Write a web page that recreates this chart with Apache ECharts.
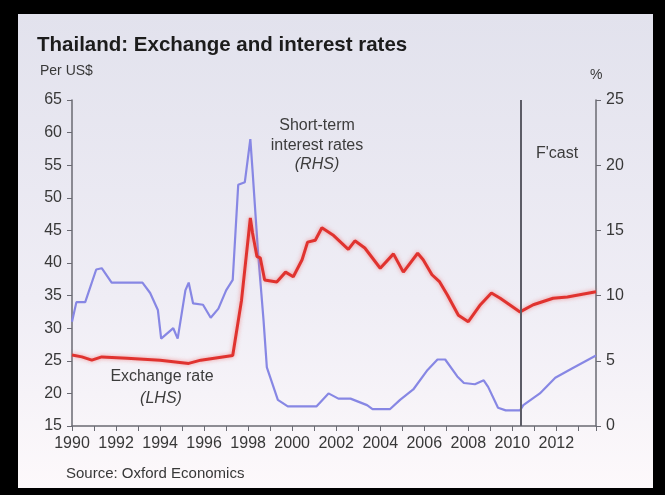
<!DOCTYPE html>
<html>
<head>
<meta charset="utf-8">
<script src="https://cdn.jsdelivr.net/npm/echarts@6/dist/echarts.min.js"></script>
<style>
  html, body { margin: 0; padding: 0; background: #000; }
  #chart { width: 665px; height: 495px; }
</style>
</head>
<body>
<div id="chart"></div>
<script>
// Exchange rate, baht per US$ (left axis)
const fxYears = [1990.0, 1990.45, 1990.9, 1991.35, 1992.5, 1994.0, 1995.3, 1995.85, 1997.3, 1997.7,
  1998.1, 1998.2, 1998.4, 1998.55, 1998.75, 1999.3, 1999.7, 2000.05, 2000.45, 2000.7,
  2001.05, 2001.35, 2001.85, 2002.55, 2002.85, 2003.3, 2004.0, 2004.6, 2005.05, 2005.7,
  2005.95, 2006.35, 2006.7, 2007.05, 2007.55, 2008.0, 2008.55, 2009.05, 2009.45, 2010.35,
  2010.95, 2011.85, 2012.5, 2013.8]
const fxRates = [25.9, 25.6, 25.1, 25.6, 25.4, 25.1, 24.6, 25.1, 25.8, 34.3,
  46.9, 44.6, 41.0, 40.8, 37.4, 37.1, 38.6, 37.9, 40.5, 43.2,
  43.5, 45.4, 44.3, 42.1, 43.4, 42.3, 39.2, 41.4, 38.6, 41.5,
  40.5, 38.2, 37.1, 35.1, 32.0, 31.0, 33.6, 35.4, 34.6, 32.5,
  33.6, 34.6, 34.8, 35.6]

// Short-term interest rates, % (right axis)
const irYears = [1990.0, 1990.2, 1990.6, 1991.1, 1991.35, 1991.8, 1993.2, 1993.55, 1993.9, 1994.05,
  1994.6, 1994.8, 1995.15, 1995.3, 1995.5, 1995.95, 1996.3, 1996.65, 1997.0, 1997.3,
  1997.55, 1997.85, 1998.1, 1998.2, 1998.45, 1998.7, 1998.85, 1999.35, 1999.8, 2001.1,
  2001.65, 2002.1, 2002.65, 2003.4, 2003.65, 2004.45, 2004.9, 2005.5, 2006.15, 2006.6,
  2006.95, 2007.5, 2007.8, 2008.3, 2008.7, 2008.9, 2009.35, 2009.7, 2010.35, 2010.5,
  2011.25, 2011.95, 2012.75, 2013.8]
const irRates = [8.0, 9.5, 9.5, 12.0, 12.1, 11.0, 11.0, 10.2, 8.9, 6.7,
  7.5, 6.7, 10.4, 11.0, 9.4, 9.3, 8.3, 9.0, 10.4, 11.2,
  18.5, 18.7, 22.0, 19.6, 13.3, 8.1, 4.5, 2.0, 1.5, 1.5,
  2.5, 2.1, 2.1, 1.6, 1.3, 1.3, 2.0, 2.8, 4.3, 5.1,
  5.1, 3.8, 3.3, 3.2, 3.5, 3.0, 1.4, 1.2, 1.2, 1.6,
  2.5, 3.7, 4.45, 5.4]

const forecastStart = 2010.4

const font = '"Liberation Sans", Arial, sans-serif'
const axisColor = '#6a6a72'
const labelColor = '#383838'

const zip = (xs, ys) => xs.map((x, i) => [x, ys[i]])

const chart = echarts.init(document.getElementById('chart'))

chart.setOption({
  backgroundColor: '#000',
  animation: false,
  textStyle: { fontFamily: font },
  graphic: [
    {
      type: 'rect', z: -10,
      shape: { x: 18, y: 14, width: 635, height: 474 },
      style: {
        fill: new echarts.graphic.LinearGradient(0, 0, 0, 1, [
          { offset: 0, color: '#e2e2ed' },
          { offset: 0.6, color: '#efedf5' },
          { offset: 1, color: '#fdf9fb' }
        ])
      }
    },
    {
      type: 'text', left: 37, top: 35,
      style: { text: 'Thailand: Exchange and interest rates', font: 'bold 20.5px ' + font, fill: '#1c1c1c' }
    },
    {
      type: 'text', left: 40, top: 64,
      style: { text: 'Per US$', font: '14px ' + font, fill: labelColor }
    },
    {
      type: 'text', left: 590, top: 68,
      style: { text: '%', font: '14px ' + font, fill: labelColor }
    },
    {
      type: 'text', x: 317, y: 116,
      style: { text: 'Short-term\ninterest rates', font: '16px ' + font, fill: '#3c3c3c', align: 'center', lineHeight: 20 }
    },
    {
      type: 'text', x: 317, y: 157,
      style: { text: '(RHS)', font: 'italic 16px ' + font, fill: '#3c3c3c', align: 'center' }
    },
    {
      type: 'text', x: 162, y: 369,
      style: { text: 'Exchange rate', font: '16px ' + font, fill: '#3c3c3c', align: 'center' }
    },
    {
      type: 'text', x: 161, y: 391,
      style: { text: '(LHS)', font: 'italic 16px ' + font, fill: '#3c3c3c', align: 'center' }
    },
    {
      type: 'text', x: 557, y: 146,
      style: { text: "F'cast", font: '16px ' + font, fill: '#3c3c3c', align: 'center' }
    },
    {
      type: 'text', left: 66, top: 466,
      style: { text: 'Source: Oxford Economics', font: '15px ' + font, fill: labelColor }
    }
  ],
  grid: { left: 72, right: 69, top: 100, bottom: 69, containLabel: false },
  xAxis: {
    type: 'value',
    min: 1990,
    max: 2013.8,
    interval: 1,
    splitLine: { show: false },
    axisLine: { lineStyle: { color: axisColor, width: 1.5 } },
    axisTick: { length: 5, lineStyle: { color: axisColor } },
    axisLabel: {
      color: labelColor, fontSize: 16, margin: 10,
      formatter: v => (v % 2 === 0 && v <= 2012) ? String(v) : ''
    }
  },
  yAxis: [
    {
      type: 'value', min: 15, max: 65, interval: 5, position: 'left',
      splitLine: { show: false },
      axisLine: { show: true, lineStyle: { color: axisColor, width: 1.5 } },
      axisTick: { show: true, length: 5, lineStyle: { color: axisColor } },
      axisLabel: { color: labelColor, fontSize: 16, margin: 10 }
    },
    {
      type: 'value', min: 0, max: 25, interval: 5, position: 'right',
      splitLine: { show: false },
      axisLine: { show: true, lineStyle: { color: axisColor, width: 1.5 } },
      axisTick: { show: true, length: 5, lineStyle: { color: axisColor } },
      axisLabel: { color: labelColor, fontSize: 16, margin: 10 }
    }
  ],
  series: [
    {
      name: 'Short-term interest rates',
      type: 'line',
      yAxisIndex: 1,
      data: zip(irYears, irRates),
      showSymbol: false,
      lineStyle: { color: '#8787e4', width: 2.2 },
      z: 2,
      markLine: {
        silent: true,
        symbol: 'none',
        label: { show: false },
        lineStyle: { color: '#5c5c66', width: 2, type: 'solid' },
        data: [{ xAxis: forecastStart }]
      }
    },
    {
      name: 'Exchange rate',
      type: 'line',
      yAxisIndex: 0,
      data: zip(fxYears, fxRates),
      showSymbol: false,
      lineStyle: {
        color: '#e0332f', width: 3,
        shadowColor: 'rgba(240, 110, 110, 0.7)', shadowBlur: 4
      },
      z: 3
    }
  ]
})
</script>
</body>
</html>
